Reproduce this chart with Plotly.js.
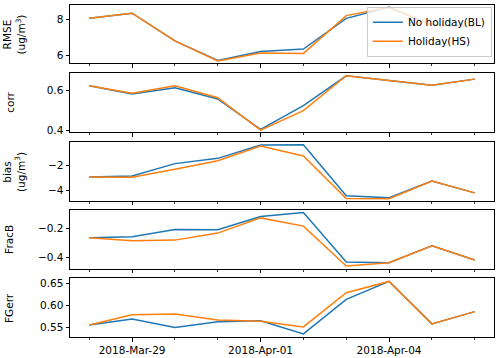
<!DOCTYPE html>
<html>
<head>
<meta charset="utf-8">
<script src="https://cdn.plot.ly/plotly-3.0.1.min.js"></script>
<style>
  body { margin: 0; background: #fff; }
  #chart { width: 500px; height: 358px; }
</style>
</head>
<body>
<div id="chart"></div>
<script>
var dates = ["2018-03-28", "2018-03-29", "2018-03-30", "2018-03-31", "2018-04-01",
             "2018-04-02", "2018-04-03", "2018-04-04", "2018-04-05", "2018-04-06"];

var rmseBL = [8.05, 8.33, 6.82, 5.75, 6.23, 6.37, 8.05, 8.65, 7.69, 7.6];
var rmseHS = [8.05, 8.33, 6.82, 5.72, 6.15, 6.13, 8.2, 8.65, 7.69, 7.6];

var corrBL = [0.625, 0.583, 0.614, 0.558, 0.404, 0.524, 0.675, 0.651, 0.627, 0.658];
var corrHS = [0.625, 0.587, 0.624, 0.564, 0.4, 0.499, 0.675, 0.651, 0.627, 0.658];

var biasBL = [-2.92, -2.84, -1.84, -1.41, -0.33, -0.3, -4.46, -4.62, -3.25, -4.22];
var biasHS = [-2.92, -2.95, -2.3, -1.6, -0.41, -1.22, -4.68, -4.7, -3.25, -4.22];

var fracBL = [-0.266, -0.259, -0.21, -0.211, -0.121, -0.093, -0.432, -0.436, -0.32, -0.418];
var fracHS = [-0.266, -0.287, -0.282, -0.234, -0.13, -0.186, -0.459, -0.436, -0.32, -0.418];

var fgeBL = [0.5555, 0.569, 0.55, 0.563, 0.565, 0.535, 0.614, 0.655, 0.558, 0.586];
var fgeHS = [0.5555, 0.579, 0.5805, 0.567, 0.564, 0.551, 0.629, 0.655, 0.558, 0.586];

var seriesNames = ["No holiday(BL)", "Holiday(HS)"];
var colors = ["#1f77b4", "#ff7f0e"];

var panels = [
  { bl: rmseBL, hs: rmseHS, label: "RMSE<br>(ug/m<sup>3</sup>)", range: [5.6, 8.78], dtick: 2, fmt: "d" },
  { bl: corrBL, hs: corrHS, label: "corr", range: [0.39, 0.687], dtick: 0.2, fmt: ".1f" },
  { bl: biasBL, hs: biasHS, label: "bias<br>(ug/m<sup>3</sup>)", range: [-4.87, -0.09], dtick: 2, fmt: "d" },
  { bl: fracBL, hs: fracHS, label: "FracB", range: [-0.479, -0.075], dtick: 0.2, fmt: ".1f" },
  { bl: fgeBL, hs: fgeHS, label: "FGerr", range: [0.528, 0.663], dtick: 0.05, fmt: ".2f" }
];

var domains = [[0.825, 1.0], [0.617, 0.794], [0.41, 0.587], [0.205, 0.383], [0.0, 0.178]];
var labelX = [14.5, 10, 14.5, 9.5, 9.5];

var data = [];
var annotations = [];
var layout = {
  width: 500,
  height: 358,
  margin: { l: 70, r: 6, t: 5, b: 21 },
  paper_bgcolor: "#fff",
  plot_bgcolor: "#fff",
  font: { family: "DejaVu Sans", size: 10.5, color: "#000" },
  showlegend: true,
  legend: {
    x: 0.995, y: 0.995, xanchor: "right", yanchor: "top",
    bgcolor: "rgba(255,255,255,0.8)", bordercolor: "#cccccc", borderwidth: 1,
    font: { size: 10.5 }, itemwidth: 30, tracegroupgap: 0
  }
};

panels.forEach(function (p, i) {
  var n = i === 0 ? "" : String(i + 1);
  [p.bl, p.hs].forEach(function (vals, k) {
    data.push({
      type: "scatter",
      mode: "lines",
      x: dates,
      y: vals,
      name: seriesNames[k],
      showlegend: i === 0,
      legendgroup: seriesNames[k],
      line: { color: colors[k], width: 1.5 },
      xaxis: "x" + n,
      yaxis: "y" + n
    });
  });

  layout["xaxis" + n] = {
    type: "date",
    domain: [0, 1],
    anchor: "y" + n,
    matches: i === 0 ? undefined : "x",
    range: ["2018-03-27 13:12", "2018-04-06 10:48"],
    tick0: "2018-03-29",
    dtick: 3 * 86400000,
    tickformat: "%Y-%b-%d",
    showticklabels: i === 4,
    ticks: "outside",
    ticklen: 3.5,
    tickwidth: 1,
    tickcolor: "#000",
    minor: { dtick: 86400000, tick0: "2018-03-28", ticks: "outside", ticklen: 2, tickwidth: 0.8, tickcolor: "#000", showgrid: false },
    showline: true,
    mirror: true,
    linecolor: "#000",
    linewidth: 1,
    showgrid: false,
    zeroline: false
  };
  layout["yaxis" + n] = {
    domain: domains[i],
    anchor: "x" + n,
    range: p.range,
    dtick: p.dtick,
    tick0: 0,
    tickformat: p.fmt,
    ticks: "outside",
    ticklen: 3.5,
    tickwidth: 1,
    tickcolor: "#000",
    showline: true,
    mirror: true,
    linecolor: "#000",
    linewidth: 1,
    showgrid: false,
    zeroline: false
  };
  annotations.push({
    text: p.label,
    textangle: -90,
    xref: "paper",
    yref: "paper",
    x: (labelX[i] - 70) / 424,
    y: (domains[i][0] + domains[i][1]) / 2,
    xanchor: "center",
    yanchor: "middle",
    showarrow: false,
    font: { size: 10.5, family: "DejaVu Sans", color: "#000" }
  });
});

layout.annotations = annotations;

Plotly.newPlot("chart", data, layout, { displayModeBar: false, staticPlot: true });
</script>
</body>
</html>
